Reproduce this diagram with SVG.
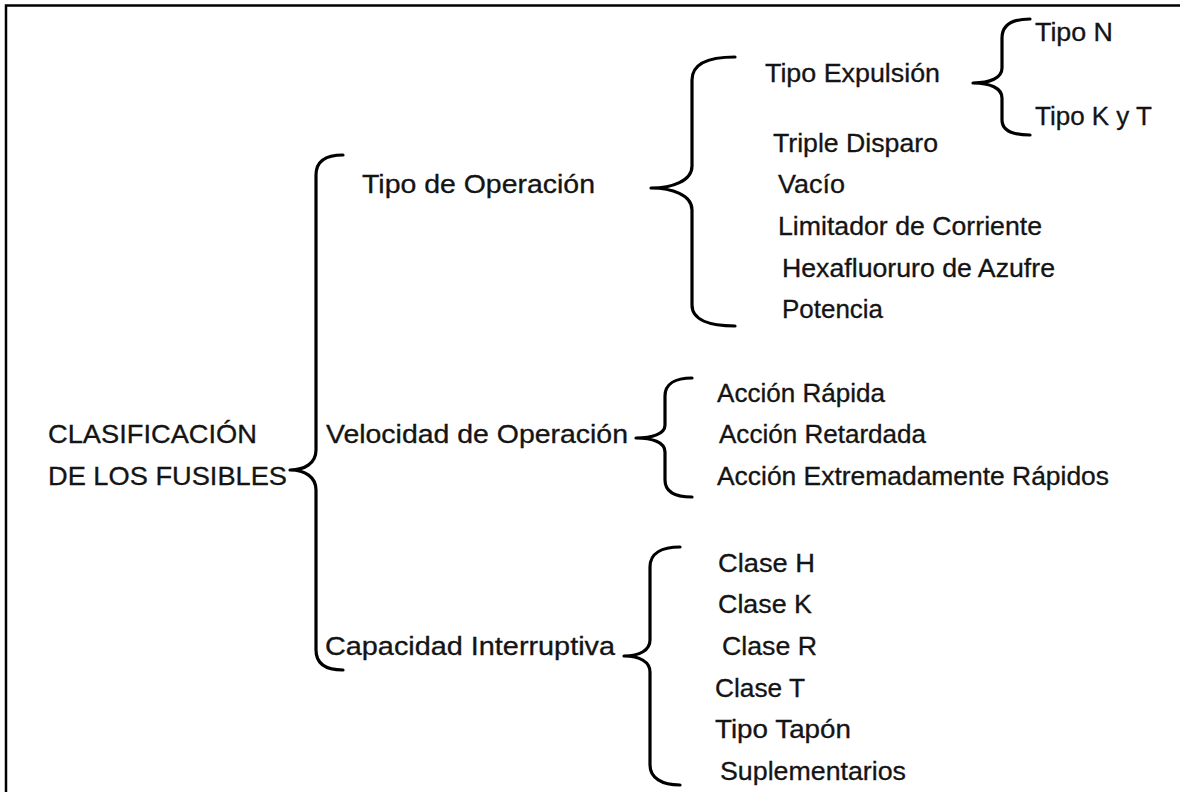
<svg xmlns="http://www.w3.org/2000/svg" width="1180" height="792" viewBox="0 0 1180 792">
<style>
text{font-family:"Liberation Sans",Arial,sans-serif;font-size:25px;fill:#141414;stroke:#141414;stroke-width:0.3}
.br{fill:none;stroke:#000;stroke-width:3.2;stroke-linecap:round;stroke-linejoin:round}
.frame{fill:none;stroke:#000;stroke-width:2.5}
</style>
<rect width="1180" height="792" fill="#fff"/>
<path class="frame" d="M6,800 L6,5.5 L1185,5.5"/>
<g id="connectors">
<path class="br" d="M343,155 C325,155 316,162 316,175 L316,450 C316,463 305,470 290,470 C305,470 316,477 316,490 L316,650 C316,663 325,670 343,670"/>
<path class="br" d="M735,57 C710,57 692,63 692,80 L692,166 C692,181 672,188 651,188 C672,188 692,195 692,210 L692,305 C692,320 710,326 735,326"/>
<path class="br" d="M1030,19 C1012,19 1002,25 1002,38 L1002,68 C1002,78 990,83 973,83 C990,83 1002,88 1002,98 L1002,120 C1002,131 1012,135 1030,135"/>
<path class="br" d="M692,378 C675,378 665,384 665,396 L665,425 C665,434 652,438 636,438 C652,438 665,442 665,452 L665,480 C665,492 675,497 692,497"/>
<path class="br" d="M680,547 C662,547 650,553 650,567 L650,640 C650,650 640,656 624,656 C640,656 650,662 650,672 L650,765 C650,778 662,785 680,785"/>
</g>
<g id="root"><text x="48" y="443" textLength="209" lengthAdjust="spacingAndGlyphs">CLASIFICACIÓN</text><text x="48" y="485" textLength="239" lengthAdjust="spacingAndGlyphs">DE LOS FUSIBLES</text></g>
<g id="tipo-operacion"><text x="362" y="193" textLength="233" lengthAdjust="spacingAndGlyphs">Tipo de Operación</text></g>
<g id="velocidad-operacion"><text x="326" y="443" textLength="302" lengthAdjust="spacingAndGlyphs">Velocidad de Operación</text></g>
<g id="capacidad-interruptiva"><text x="325" y="655" textLength="290" lengthAdjust="spacingAndGlyphs">Capacidad Interruptiva</text></g>
<g id="tipo-expulsion"><text x="765" y="82" textLength="175" lengthAdjust="spacingAndGlyphs">Tipo Expulsión</text></g>
<g id="tipo-n"><text x="1035" y="41" textLength="78" lengthAdjust="spacingAndGlyphs">Tipo N</text></g>
<g id="tipo-kyt"><text x="1035" y="125" textLength="117" lengthAdjust="spacingAndGlyphs">Tipo K y T</text></g>
<g id="triple-disparo"><text x="773" y="152" textLength="165" lengthAdjust="spacingAndGlyphs">Triple Disparo</text></g>
<g id="vacio"><text x="778" y="193" textLength="67" lengthAdjust="spacingAndGlyphs">Vacío</text></g>
<g id="limitador"><text x="778" y="235" textLength="264" lengthAdjust="spacingAndGlyphs">Limitador de Corriente</text></g>
<g id="hexafluoruro"><text x="782" y="277" textLength="273" lengthAdjust="spacingAndGlyphs">Hexafluoruro de Azufre</text></g>
<g id="potencia"><text x="782" y="318" textLength="101" lengthAdjust="spacingAndGlyphs">Potencia</text></g>
<g id="accion-rapida"><text x="717" y="402" textLength="168" lengthAdjust="spacingAndGlyphs">Acción Rápida</text></g>
<g id="accion-retardada"><text x="719" y="443" textLength="207" lengthAdjust="spacingAndGlyphs">Acción Retardada</text></g>
<g id="accion-extrema"><text x="717" y="485" textLength="392" lengthAdjust="spacingAndGlyphs">Acción Extremadamente Rápidos</text></g>
<g id="clase-h"><text x="718" y="572" textLength="97" lengthAdjust="spacingAndGlyphs">Clase H</text></g>
<g id="clase-k"><text x="718" y="613" textLength="94" lengthAdjust="spacingAndGlyphs">Clase K</text></g>
<g id="clase-r"><text x="722" y="655" textLength="95" lengthAdjust="spacingAndGlyphs">Clase R</text></g>
<g id="clase-t"><text x="715" y="697" textLength="90" lengthAdjust="spacingAndGlyphs">Clase T</text></g>
<g id="tipo-tapon"><text x="715" y="738" textLength="136" lengthAdjust="spacingAndGlyphs">Tipo Tapón</text></g>
<g id="suplementarios"><text x="720" y="780" textLength="186" lengthAdjust="spacingAndGlyphs">Suplementarios</text></g>
</svg>
